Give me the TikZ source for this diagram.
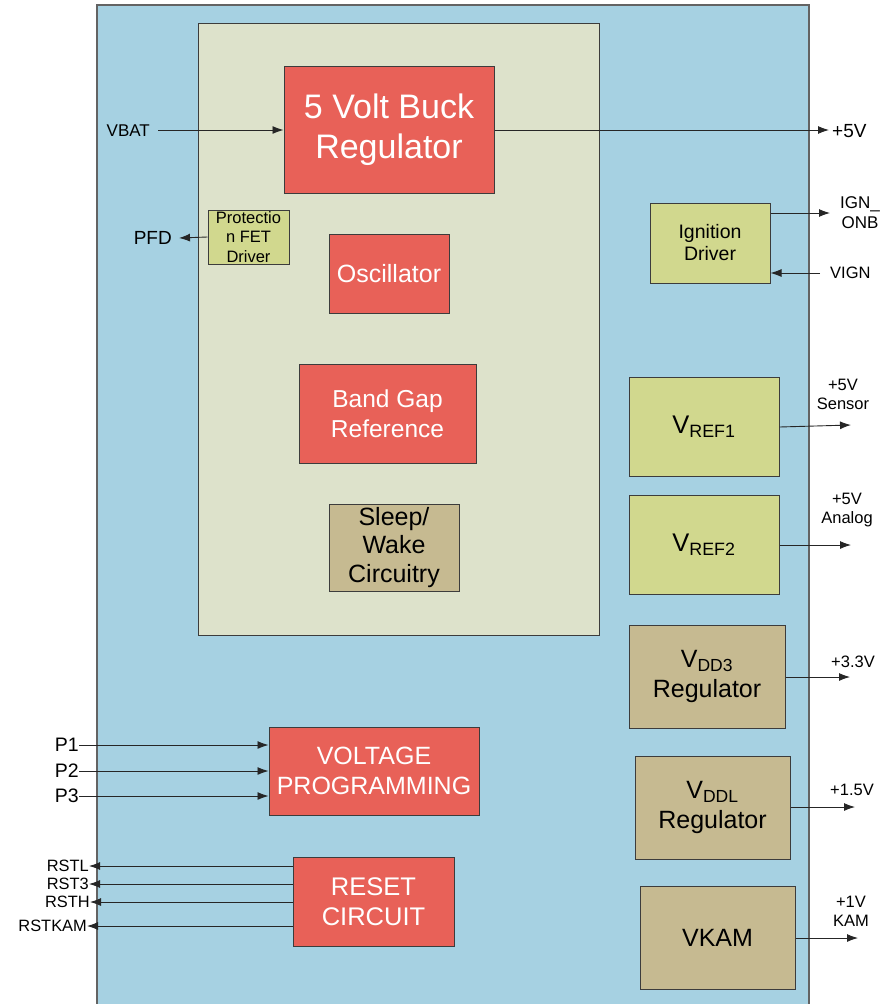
\documentclass[tikz,border=0pt]{standalone}
\usepackage{fontspec}
\setmainfont{Liberation Sans}
\usetikzlibrary{arrows.meta}
\definecolor{bgblue}{RGB}{166,209,226}
\definecolor{innerbg}{RGB}{221,226,203}
\definecolor{redfill}{RGB}{232,97,88}
\definecolor{ygfill}{RGB}{209,216,142}
\definecolor{tanfill}{RGB}{198,186,145}
\definecolor{edge}{RGB}{60,60,60}
\tikzset{
  blk/.style={draw=edge, line width=1pt, inner sep=0pt, align=center, anchor=center},
  redbox/.style={blk, fill=redfill, text=white},
  ygbox/.style={blk, fill=ygfill, text=black},
  tanbox/.style={blk, fill=tanfill, text=black},
  sig/.style={draw=black!85, line width=0.9pt, -{Latex[length=11pt,width=8pt]}},
  lbl/.style={inner sep=0pt, align=center},
}
\newcommand{\fs}[2]{\fontsize{#1}{#2}\selectfont}
\begin{document}
\begin{tikzpicture}[x=1pt,y=-1pt]
\useasboundingbox (0,0) rectangle (884,1004);
% outer block
\fill[bgblue] (97,5) rectangle (809,1004);
\draw[edge!80, line width=1.5pt] (97,1004) -- (97,5) -- (809,5) -- (809,1004);
% inner block
\node[blk, fill=innerbg, minimum width=401pt, minimum height=612pt] (inner) at (398.5,329) {};

% core blocks
\node[redbox, minimum width=210pt, minimum height=127pt, font=\fs{34}{40}] (buck) at (389,129.5) {\raisebox{-2pt}{5 Volt Buck}\\\raisebox{-2pt}{Regulator}};
\node[ygbox, minimum width=81pt, minimum height=54pt, font=\fs{16.5}{19.5}] (pfet) at (248.5,237) {Protectio\\n FET\\Driver};
\node[redbox, minimum width=120pt, minimum height=79pt, font=\fs{25}{28}] (osc) at (389,273.5) {Oscillator};
\node[redbox, minimum width=177pt, minimum height=99pt, font=\fs{24.5}{30}] (bg) at (387.5,413.5) {Band Gap\\Reference};
\node[tanbox, minimum width=130pt, minimum height=87pt, font=\fs{25}{28.5}] (sw) at (394,547.5) {\raisebox{-3pt}{Sleep/}\\\raisebox{-3pt}{Wake}\\\raisebox{-3pt}{Circuitry}};

% right column
\node[ygbox, minimum width=120pt, minimum height=80pt, font=\fs{19.5}{22}] (ign) at (710,243) {Ignition\\Driver};
\node[ygbox, minimum width=150pt, minimum height=99pt, font=\fs{25.5}{28}] (vref1) at (704,426.5) {V\textsubscript{REF1}};
\node[ygbox, minimum width=150pt, minimum height=99pt, font=\fs{25.5}{28}] (vref2) at (704,544.5) {V\textsubscript{REF2}};
\node[tanbox, minimum width=156pt, minimum height=103pt, font=\fs{25}{30}] (vdd3) at (707,676.5) {V\textsubscript{DD3}\\Regulator};
\node[tanbox, minimum width=155pt, minimum height=103pt, font=\fs{25}{30}] (vddl) at (712.5,807.5) {V\textsubscript{DDL}\\Regulator};
\node[tanbox, minimum width=155pt, minimum height=103pt, font=\fs{25}{30}] (vkam) at (717.5,937.5) {VKAM};

% bottom-left blocks
\node[redbox, minimum width=210pt, minimum height=88pt, font=\fs{25}{30}] (vprog) at (374,771) {VOLTAGE\\PROGRAMMING};
\node[redbox, minimum width=161pt, minimum height=89pt, font=\fs{25.5}{30}] (rst) at (373.5,901.5) {RESET\\CIRCUIT};

% labels
\node[lbl, font=\fs{17}{20}, anchor=east] (vbat) at (150,131) {VBAT};
\node[lbl, font=\fs{19}{22}, anchor=east] (pfd) at (172,238) {PFD};
\node[lbl, font=\fs{19}{22}, anchor=west] (p5v) at (832,131) {+5V};
\node[lbl, font=\fs{17}{20}] (ignonb) at (860,213) {IGN\_\\ONB};
\node[lbl, font=\fs{16.5}{18}, anchor=west] (vign) at (830,273) {VIGN};
\node[lbl, font=\fs{16.5}{19}] (sens) at (843,394) {+5V\\Sensor};
\node[lbl, font=\fs{16.5}{19}] (anlg) at (847,510) {+5V\\Analog};
\node[lbl, font=\fs{16.5}{18}] (v33) at (853,662) {+3.3V};
\node[lbl, font=\fs{16.5}{18}] (v15) at (852,790) {+1.5V};
\node[lbl, font=\fs{16.5}{19}] (v1) at (851,911) {+1V\\KAM};
\node[lbl, font=\fs{19.5}{22}, anchor=east] (p1) at (79,745) {P1};
\node[lbl, font=\fs{19.5}{22}, anchor=east] (p2) at (79,771) {P2};
\node[lbl, font=\fs{19.5}{22}, anchor=east] (p3) at (79,796) {P3};
\node[lbl, font=\fs{16.4}{18}, anchor=east] (rstl) at (89,866) {RSTL};
\node[lbl, font=\fs{16.4}{18}, anchor=east] (rst3) at (89,884) {RST3};
\node[lbl, font=\fs{16.4}{18}, anchor=east] (rsth) at (90,902) {RSTH};
\node[lbl, font=\fs{16.4}{18}, anchor=east] (rstkam) at (87,926) {RSTKAM};

% end coordinates
\coordinate (e5v) at (829,130);
\coordinate (epfd) at (179,238);
\coordinate (eign) at (830,213);
\coordinate (svign) at (820,273);
\coordinate (esens) at (851,425);
\coordinate (eanlg) at (851,545);
\coordinate (e33) at (850,677);
\coordinate (e15) at (855,807);
\coordinate (e1) at (858,938);

% connectors
\draw[sig] (vbat.east) ++(8,-1) -- (buck.west |- 0,130);
\draw[sig] (buck.east |- 0,130) -- (e5v);
\draw[sig] (pfet.west) -- (epfd);
\draw[sig] (ign.east |- eign) -- (eign);
\draw[sig] (svign) -- (ign.east |- svign);
\draw[sig] (vref1.east |- 0,427) -- (esens);
\draw[sig] (vref2.east |- eanlg) -- (eanlg);
\draw[sig] (vdd3.east |- e33) -- (e33);
\draw[sig] (vddl.east |- e15) -- (e15);
\draw[sig] (vkam.east |- e1) -- (e1);
\draw[sig] (p1.east) -- (vprog.west |- p1);
\draw[sig] (p2.east) -- (vprog.west |- p2);
\draw[sig] (p3.east) -- (vprog.west |- p3);
\draw[sig] (rst.west |- rstl) -- (rstl.east);
\draw[sig] (rst.west |- rst3) -- (rst3.east);
\draw[sig] (rst.west |- rsth) -- (rsth.east);
\draw[sig] (rst.west |- rstkam) -- (rstkam.east);
\end{tikzpicture}
\end{document}
